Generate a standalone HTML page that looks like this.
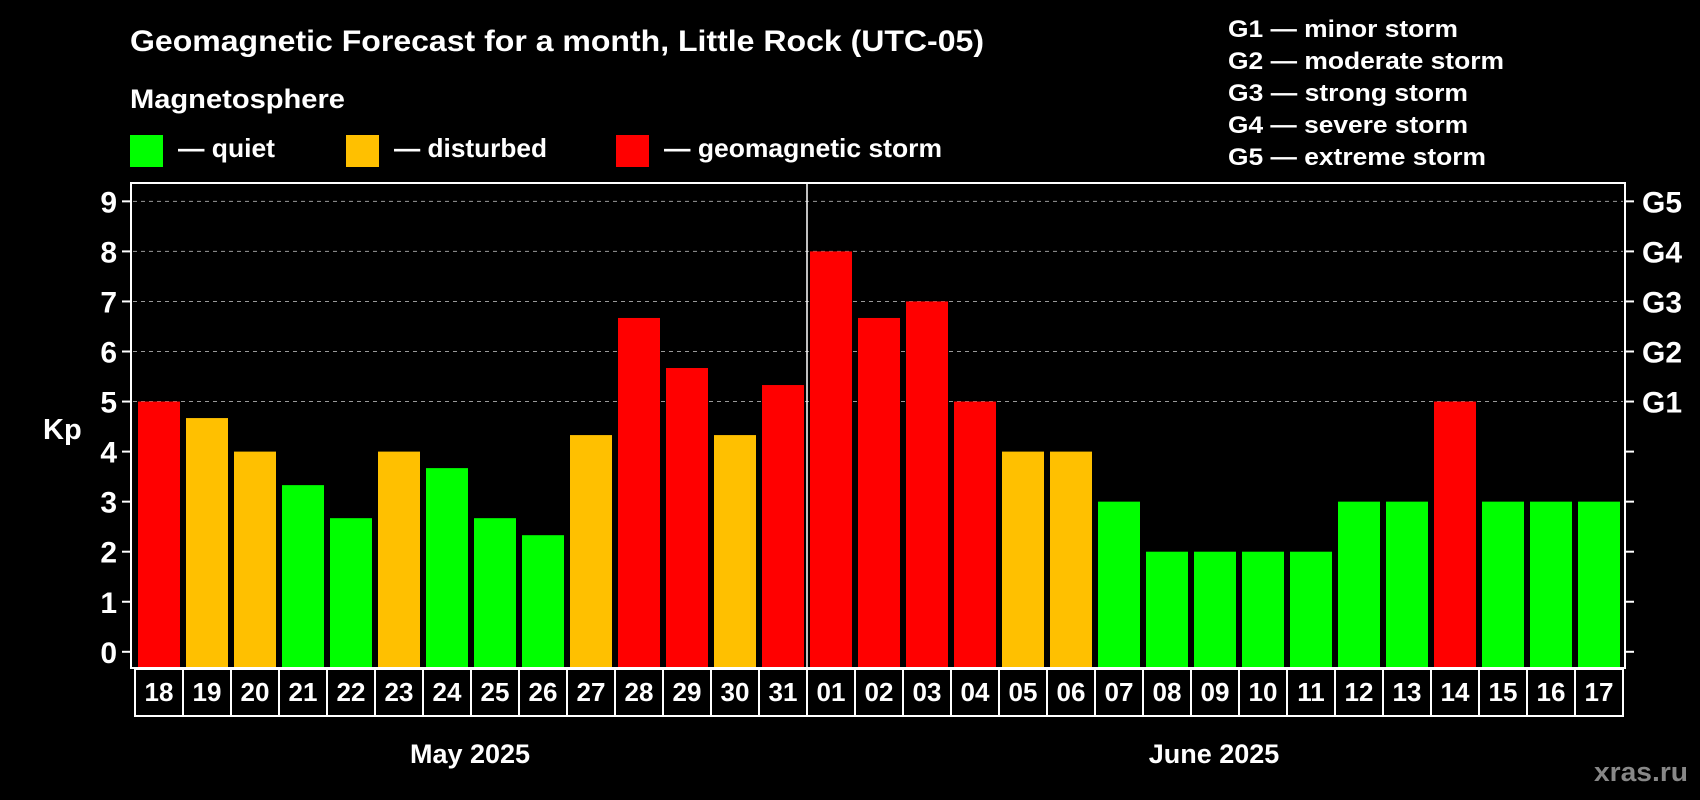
<!DOCTYPE html>
<html><head><meta charset="utf-8">
<style>
html,body{margin:0;padding:0;background:#000;}
svg{display:block;font-family:"Liberation Sans",Arial,sans-serif;font-weight:bold;}
</style></head>
<body>
<svg id="chart" width="1700" height="800" viewBox="0 0 1700 800" xmlns="http://www.w3.org/2000/svg">
<rect width="1700" height="800" fill="#000"/>
<text x="130" y="51" fill="#fff" font-size="30" textLength="854" lengthAdjust="spacingAndGlyphs">Geomagnetic Forecast for a month, Little Rock (UTC-05)</text>
<text x="130" y="108" fill="#fff" font-size="27" textLength="215" lengthAdjust="spacingAndGlyphs">Magnetosphere</text>
<rect x="130" y="135" width="33" height="32" fill="#00ff00"/>
<text x="178" y="157" fill="#fff" font-size="26" textLength="97" lengthAdjust="spacingAndGlyphs">— quiet</text>
<rect x="346" y="135" width="33" height="32" fill="#ffc000"/>
<text x="394" y="157" fill="#fff" font-size="26" textLength="153" lengthAdjust="spacingAndGlyphs">— disturbed</text>
<rect x="616" y="135" width="33" height="32" fill="#ff0000"/>
<text x="664" y="157" fill="#fff" font-size="26" textLength="278" lengthAdjust="spacingAndGlyphs">— geomagnetic storm</text>
<g fill="#fff" font-size="24">
<text x="1228" y="37" textLength="230" lengthAdjust="spacingAndGlyphs">G1 — minor storm</text>
<text x="1228" y="69" textLength="276" lengthAdjust="spacingAndGlyphs">G2 — moderate storm</text>
<text x="1228" y="101" textLength="240" lengthAdjust="spacingAndGlyphs">G3 — strong storm</text>
<text x="1228" y="133" textLength="240" lengthAdjust="spacingAndGlyphs">G4 — severe storm</text>
<text x="1228" y="165" textLength="258" lengthAdjust="spacingAndGlyphs">G5 — extreme storm</text>
</g>
<text x="43" y="439" fill="#fff" font-size="29">Kp</text>
<g id="plot"></g>
<text x="470" y="763" fill="#fff" font-size="27" text-anchor="middle">May 2025</text>
<text x="1214" y="763" fill="#fff" font-size="27" text-anchor="middle">June 2025</text>
<text x="1594" y="781" fill="#888" font-size="27" textLength="94" lengthAdjust="spacingAndGlyphs">xras.ru</text>
</svg>
<script>
const days = ["18","19","20","21","22","23","24","25","26","27","28","29","30","31","01","02","03","04","05","06","07","08","09","10","11","12","13","14","15","16","17"];
const kpValues = [5,4.67,4,3.33,2.67,4,3.67,2.67,2.33,4.33,6.67,5.67,4.33,5.33,8,6.67,7,5,4,4,3,2,2,2,2,3,3,5,3,3,3];
const levels = ["storm","disturbed","disturbed","quiet","quiet","disturbed","quiet","quiet","quiet","disturbed","storm","storm","disturbed","storm","storm","storm","storm","storm","disturbed","disturbed","quiet","quiet","quiet","quiet","quiet","quiet","quiet","storm","quiet","quiet","quiet"];
const yTicks = [0,1,2,3,4,5,6,7,8,9];
const gLabels = ["G1","G2","G3","G4","G5"];
const gLevels = [5,6,7,8,9];
const monthBreakIndex = 14;

const NS = "http://www.w3.org/2000/svg";
const plot = document.getElementById("plot");
const L = 131, R = 1625, T = 183, B = 668;
const y0 = 651.8, unit = 50.05;
const yScale = v => y0 - v * unit;
const pitch = 48, barW = 42, x0 = 138;
const xScale = i => x0 + i * pitch;
const colorOf = {quiet:"#00ff00", disturbed:"#ffc000", storm:"#ff0000"};
function mk(tag, attrs){ const e = document.createElementNS(NS, tag); for (const k in attrs) e.setAttribute(k, attrs[k]); plot.appendChild(e); return e; }

yTicks.forEach(v => {
  if (v >= 5) {
    const g = mk("line", {x1:L+2, x2:R-2, y1:yScale(v), y2:yScale(v), stroke:"#999", "stroke-width":1, "stroke-dasharray":"4,4"});
    
    
  }
});
kpValues.forEach((v, i) => {
  const r = mk("rect", {x:xScale(i), y:yScale(v), width:barW, height:B - yScale(v), fill:colorOf[levels[i]]});
  
  
});
const fr = mk("rect", {x:L, y:T, width:R-L, height:B-T, fill:"none", stroke:"#fff", "stroke-width":2});


const dx = xScale(monthBreakIndex) - 3;
const dv = mk("line", {x1:dx, x2:dx, y1:T, y2:716, stroke:"#fff", "stroke-width":1.5});


yTicks.forEach(v => {
  const y = yScale(v);
  const t1 = mk("line", {x1:122, x2:L, y1:y, y2:y, stroke:"#fff", "stroke-width":2});
  
  
  const t2 = mk("line", {x1:R, x2:1634, y1:y, y2:y, stroke:"#fff", "stroke-width":2});
  
  
  const tx = mk("text", {x:117, y:y + 11, fill:"#fff", "font-size":30, "text-anchor":"end"});
  tx.textContent = String(v);
  
  
});
gLabels.forEach((g, i) => {
  const tx = mk("text", {x:1642, y:yScale(gLevels[i]) + 11, fill:"#fff", "font-size":30});
  tx.textContent = g;
  
  
});
days.forEach((d, i) => {
  const bx = xScale(i) - 3;
  const r = mk("rect", {x:bx, y:669, width:pitch, height:47, fill:"#000", stroke:"#fff", "stroke-width":2});
  
  
  const tx = mk("text", {x:bx + pitch/2, y:701, fill:"#fff", "font-size":26, "text-anchor":"middle"});
  tx.textContent = d;
  
  
});
</script>
</body></html>
